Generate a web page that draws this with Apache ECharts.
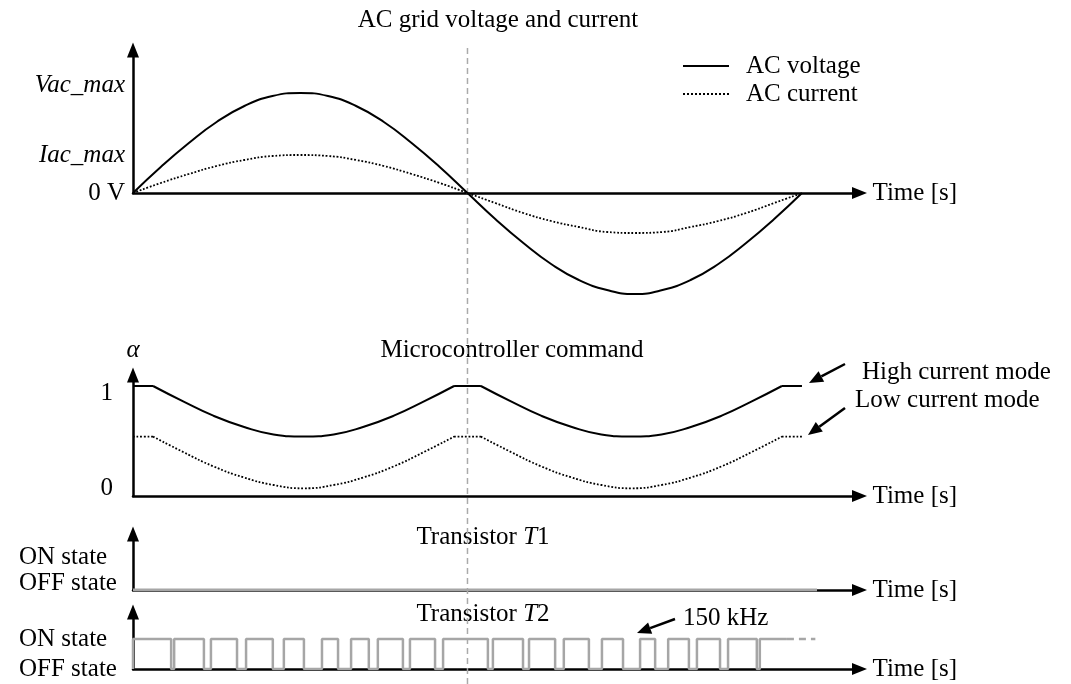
<!DOCTYPE html>
<html>
<head>
<meta charset="utf-8">
<title>AC grid voltage and current</title>
<script src="https://cdn.jsdelivr.net/npm/echarts@6/dist/echarts.min.js"></script>
<style>
  html, body { margin: 0; padding: 0; background: #fff; }
  #chart { width: 1071px; height: 684px; }
</style>
</head>
<body>
<div id="chart"></div>
<script>
// time in ms, one 50 Hz grid period = 20 ms
const acTime = [0, 0.83, 1.67, 2.5, 3.33, 4.17, 5, 5.83, 6.67, 7.5, 8.33, 9.17, 10, 10.83, 11.67, 12.5, 13.33, 14.17, 15, 15.83, 16.67, 17.5, 18.33, 19.17, 20]
const acVoltage = [0, 26, 50, 71, 87, 97, 100, 97, 87, 71, 50, 26, 0, -26, -50, -71, -87, -97, -101, -97, -87, -71, -50, -26, 0]
const acCurrent = [0, 10, 19, 27, 33, 37, 38, 37, 33, 27, 19, 10, 0, -10, -20, -28, -34, -39, -40, -39, -34, -28, -20, -10, 0]

// microcontroller command alpha
const alphaTime = [0, 0.6, 1.5, 2.4, 3.3, 4.2, 5.1, 6.0, 6.9, 7.8, 8.7, 9.6, 10.4, 11.3, 12.2, 13.1, 14.0, 14.9, 15.8, 16.7, 17.6, 18.5, 19.4, 20]
const alphaHigh = [1, 1, 0.86, 0.73, 0.63, 0.56, 0.54, 0.56, 0.63, 0.73, 0.86, 1, 1, 0.86, 0.73, 0.63, 0.56, 0.54, 0.56, 0.63, 0.73, 0.86, 1, 1]
const alphaLow = [0.54, 0.54, 0.40, 0.27, 0.17, 0.10, 0.07, 0.10, 0.17, 0.27, 0.40, 0.54, 0.54, 0.40, 0.27, 0.17, 0.10, 0.07, 0.10, 0.17, 0.27, 0.40, 0.54, 0.54]
const alphaCorners = [1, 11, 12, 22] // flat <-> curve joins

// transistor T1: OFF the whole time
const t1Time = [0, 20.45]
const t1State = [0, 0]

// transistor T2 switching edges (ms)
const t2Rise = [0, 1.23, 2.33, 3.38, 4.51, 5.65, 6.52, 7.32, 8.28, 9.27, 10.76, 11.84, 12.88, 14.02, 15.16, 16.0, 16.86, 17.79, 18.74]
const t2Fall = [1.14, 2.12, 3.11, 4.18, 5.11, 6.13, 7.05, 8.07, 9.03, 10.61, 11.66, 12.62, 13.63, 14.65, 15.61, 16.62, 17.55, 18.65]
const t2OnEnd = 19.55
const t2DashEnd = 20.4

const zeroCross = 10
const xMax = 21.72

const FONT = 'Liberation Serif'
const FS = 25
const GRAY = '#a6a6a6'

const pairs = (ts, vs) => ts.map((t, i) => [t, vs[i]])

const withCorners = (ts, vs, corners) => {
  const out = []
  ts.forEach((t, i) => {
    out.push([t, vs[i]])
    if (corners.includes(i)) {
      out.push(['-', '-'])
      out.push([t, vs[i]])
    }
  })
  return out
}

const t2Data = []
t2Rise.forEach((r, i) => {
  t2Data.push([r, 0], [r, 1])
  if (i < t2Fall.length) t2Data.push([t2Fall[i], 1], [t2Fall[i], 0])
})
t2Data.push([t2OnEnd, 1])

const axisLine = { show: true, onZero: true, symbol: ['none', 'triangle'], symbolSize: [12, 15], lineStyle: { color: '#000', width: 2.5 } }

const xAx = (i, named) => ({
  type: 'value', gridIndex: i, min: 0, max: xMax,
  show: i !== 4,
  axisLine: axisLine, axisTick: { show: false }, axisLabel: { show: false }, splitLine: { show: false },
  name: named ? 'Time [s]' : '', nameLocation: 'end', nameGap: 13,
  nameTextStyle: { fontFamily: FONT, fontSize: FS, color: '#000', align: 'left', verticalAlign: 'middle' }
})

const labelBase = { fontFamily: FONT, fontSize: FS, color: '#000' }

let chart = echarts.init(document.getElementById('chart'), null, { renderer: 'canvas' })

const arrow = (x1, y1, x2, y2) => {
  const a = Math.atan2(y2 - y1, x2 - x1), L = 14, W = 6
  const bx = x2 - L * Math.cos(a), by = y2 - L * Math.sin(a)
  return [
    { type: 'line', shape: { x1: x1, y1: y1, x2: bx, y2: by }, style: { stroke: '#000', lineWidth: 2.5 } },
    { type: 'polygon', shape: { points: [[x2, y2], [bx + W * Math.sin(a), by - W * Math.cos(a)], [bx - W * Math.sin(a), by + W * Math.cos(a)]] }, style: { fill: '#000' } }
  ]
}

const txt = (text, x, y, align, rich) => ({
  type: 'text', x: x, y: y,
  style: { text: text, fontFamily: FONT, fontSize: FS, fill: '#000', align: align || 'center', verticalAlign: 'middle', rich: rich }
})

const italicRich = {
  n: { fontFamily: FONT, fontSize: FS, fill: '#000' },
  i: { fontFamily: FONT, fontSize: FS, fill: '#000', fontStyle: 'italic' }
}

chart.setOption({
  animation: false,
  backgroundColor: '#fff',
  textStyle: { fontFamily: FONT },
  legend: {
    data: ['AC voltage', 'AC current'],
    orient: 'vertical', left: 682, top: 52, padding: 0,
    itemWidth: 46, itemHeight: 14, itemGap: 0,
    itemStyle: { opacity: 0 },
    textStyle: { fontFamily: FONT, fontSize: FS, color: '#000', lineHeight: 28, padding: [0, 0, 0, 12] }
  },
  grid: [
    { left: 133, top: 50, width: 726.5, height: 143, outerBoundsMode: 'none' },
    { left: 133, top: 375, width: 726.5, height: 121, outerBoundsMode: 'none' },
    { left: 133, top: 534, width: 726.5, height: 56, outerBoundsMode: 'none' },
    { left: 133, top: 612, width: 726.5, height: 57, outerBoundsMode: 'none' },
    { left: 133, top: 45, width: 726.5, height: 639, outerBoundsMode: 'none' }
  ],
  xAxis: [xAx(0, true), xAx(1, true), xAx(2, true), xAx(3, true), xAx(4, false)],
  yAxis: [
    {
      type: 'value', gridIndex: 0, min: 0, max: 143,
      axisLine: axisLine, axisTick: { show: false }, splitLine: { show: false },
      axisLabel: {
        ...labelBase, margin: 8, customValues: [0, 38, 100],
        formatter: v => v === 0 ? '{n|0 V}' : v === 100 ? '{v|Vac_max}' : '{i|Iac_max}',
        rich: {
          n: labelBase,
          i: { ...labelBase, fontStyle: 'italic' },
          v: { ...labelBase, fontStyle: 'italic', padding: [0, 0, 16, 0] }
        }
      }
    },
    {
      type: 'value', gridIndex: 1, min: 0, max: 1.1,
      axisLine: axisLine, axisTick: { show: false }, splitLine: { show: false },
      name: 'α', nameLocation: 'end', nameGap: 12,
      nameTextStyle: { ...labelBase, fontStyle: 'italic', align: 'center' },
      axisLabel: {
        ...labelBase, margin: 20, customValues: [0, 1],
        formatter: v => v === 0 ? '{lo|0}' : '{hi|1}',
        rich: { lo: { ...labelBase, padding: [0, 0, 16, 0] }, hi: { ...labelBase, padding: [14, 0, 0, 0] } }
      }
    },
    {
      type: 'value', gridIndex: 2, min: 0, max: 1.867,
      axisLine: axisLine, axisTick: { show: false }, splitLine: { show: false },
      axisLabel: {
        ...labelBase, margin: 114, align: 'left', customValues: [0, 1],
        formatter: v => v === 0 ? '{off|OFF state}' : '{on|ON state}',
        rich: { off: { ...labelBase, padding: [0, 0, 14, 0] }, on: { ...labelBase, padding: [0, 0, 6, 0] } }
      }
    },
    {
      type: 'value', gridIndex: 3, min: 0, max: 1.9,
      axisLine: axisLine, axisTick: { show: false }, splitLine: { show: false },
      axisLabel: {
        ...labelBase, margin: 114, align: 'left', customValues: [0, 1],
        formatter: v => v === 0 ? 'OFF state' : 'ON state'
      }
    },
    { type: 'value', gridIndex: 4, min: 0, max: 1, show: false }
  ],
  series: [
    {
      name: 'AC voltage', type: 'line', xAxisIndex: 0, yAxisIndex: 0, smooth: true, symbol: 'none', clip: false,
      lineStyle: { color: '#000', width: 2 }, itemStyle: { color: '#000' },
      data: pairs(acTime, acVoltage)
    },
    {
      name: 'AC current', type: 'line', xAxisIndex: 0, yAxisIndex: 0, smooth: true, symbol: 'none', clip: false,
      lineStyle: { color: '#000', width: 1.8, type: 'dotted' }, itemStyle: { color: '#000' },
      data: pairs(acTime, acCurrent)
    },
    {
      name: 'High current mode', type: 'line', xAxisIndex: 1, yAxisIndex: 1, smooth: true, symbol: 'none',
      lineStyle: { color: '#000', width: 2 },
      data: withCorners(alphaTime, alphaHigh, alphaCorners)
    },
    {
      name: 'Low current mode', type: 'line', xAxisIndex: 1, yAxisIndex: 1, smooth: true, symbol: 'none',
      lineStyle: { color: '#000', width: 1.8, type: 'dotted' },
      data: withCorners(alphaTime, alphaLow, alphaCorners)
    },
    {
      name: 'T1', type: 'line', xAxisIndex: 2, yAxisIndex: 2, symbol: 'none', z: 5,
      lineStyle: { color: GRAY, width: 3 },
      data: pairs(t1Time, t1State)
    },
    {
      name: 'T2', type: 'line', xAxisIndex: 3, yAxisIndex: 3, symbol: 'none', z: 5,
      lineStyle: { color: GRAY, width: 2.5 },
      data: t2Data
    },
    {
      name: 'T2 continued', type: 'line', xAxisIndex: 3, yAxisIndex: 3, symbol: 'none', z: 5,
      lineStyle: { color: GRAY, width: 2.5, type: [7, 5] },
      data: [[t2OnEnd, 1], [t2DashEnd, 1]]
    },
    {
      name: 'zero crossing', type: 'line', xAxisIndex: 4, yAxisIndex: 4, symbol: 'none', z: 1,
      lineStyle: { color: '#aaaaaa', width: 1.5, type: [6, 4] },
      data: [[zeroCross, 0], [zeroCross, 1]]
    }
  ],
  graphic: [
    txt('AC grid voltage and current', 498, 20),
    txt('Microcontroller command', 512, 350),
    txt('{n|Transistor }{i|T}{n|1}', 483, 537, 'center', italicRich),
    txt('{n|Transistor }{i|T}{n|2}', 483, 614, 'center', italicRich),
    txt('High current mode', 862, 372, 'left'),
    txt('Low current mode', 855, 400, 'left'),
    txt('150 kHz', 683, 618, 'left'),
    ...arrow(845, 364, 809, 383),
    ...arrow(845, 408, 808, 435),
    ...arrow(675, 619, 637, 633)
  ]
})

window.addEventListener('resize', () => chart.resize())
</script>
</body>
</html>
